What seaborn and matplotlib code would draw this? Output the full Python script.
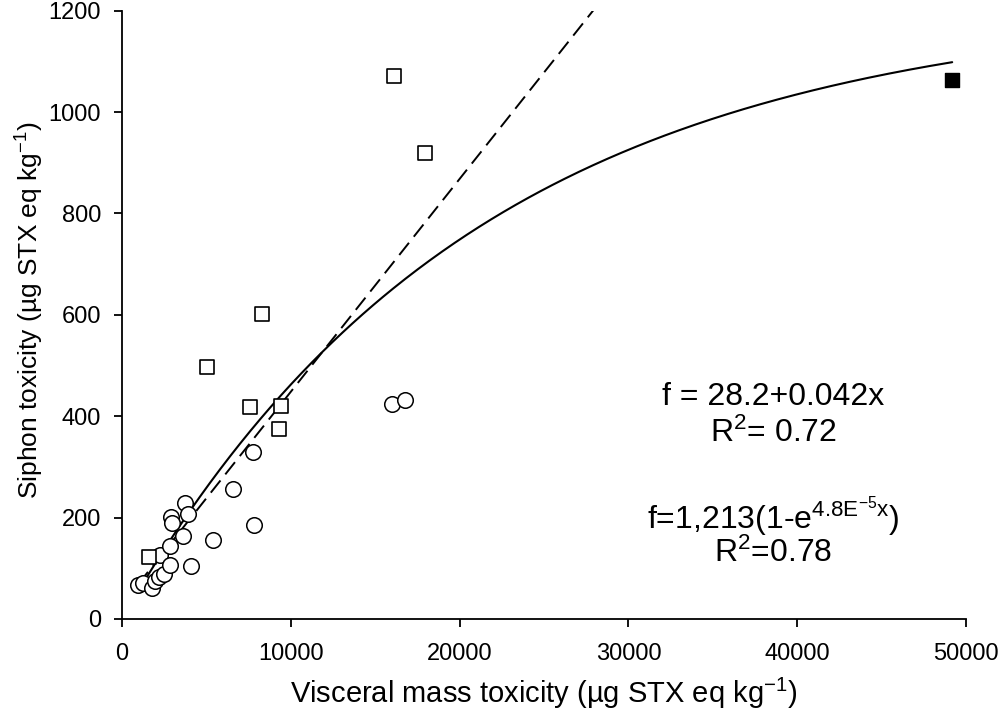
import numpy as np
import pandas as pd
import matplotlib
matplotlib.use("Agg")
import matplotlib.pyplot as plt
import seaborn as sns

# open circles
circle_x = [966, 1263, 1761, 1956, 2211, 2252, 2490, 2845, 2845, 2887, 2946,
            3598, 3734, 3930, 4090, 5412, 6562, 7783, 7825, 15987, 16758]
circle_y = [67, 71, 61, 74, 82, 126, 89, 107, 143, 201, 190,
            164, 228, 207, 105, 155, 256, 330, 186, 424, 431]

# open squares
square_x = [1620, 5056, 7588, 8299, 9289, 9407, 16141, 17979]
square_y = [122, 498, 419, 601, 374, 420, 1072, 920]

# filled square
filled_x = [49182]
filled_y = [1064]

# fitted models (from the annotations)
lin_a, lin_b = 28.2, 0.042
exp_a, exp_k = 1213, 4.8e-5

sns.set_theme(style="ticks")
plt.rcParams["font.family"] = ["Liberation Sans", "DejaVu Sans"]
plt.rcParams["mathtext.fontset"] = "custom"
plt.rcParams["mathtext.rm"] = "Liberation Sans"
plt.rcParams["mathtext.it"] = "Liberation Sans:italic"

fig = plt.figure(figsize=(10, 7.18), dpi=100)
ax = fig.add_axes([0.122, 0.138, 0.844, 0.847])

all_x = circle_x + square_x + filled_x
xs = np.linspace(min(all_x), max(all_x), 400)
fits = pd.DataFrame({
    "x": xs,
    "lin": lin_a + lin_b * xs,
    "exp": exp_a * (1 - np.exp(-exp_k * xs)),
})

sns.lineplot(data=fits, x="x", y="lin", ax=ax, color="black", lw=1.4,
             linestyle=(0, (8, 4)))
sns.lineplot(data=fits, x="x", y="exp", ax=ax, color="black", lw=1.5)

sns.scatterplot(x=circle_x, y=circle_y, ax=ax, marker="o", s=125,
                facecolor="white", edgecolor="black", linewidth=1.1, zorder=3)
sns.scatterplot(x=square_x, y=square_y, ax=ax, marker="s", s=88,
                facecolor="white", edgecolor="black", linewidth=1.2, zorder=3)
sns.scatterplot(x=filled_x, y=filled_y, ax=ax, marker="s", s=95,
                facecolor="black", edgecolor="black", linewidth=1.0, zorder=3)

ax.set_xlim(0, 50000)
ax.set_ylim(0, 1200)
ax.set_xticks([0, 10000, 20000, 30000, 40000, 50000])
ax.set_yticks([0, 200, 400, 600, 800, 1000, 1200])
sns.despine(ax=ax)
for sp in ax.spines.values():
    sp.set_linewidth(1.3)
    sp.set_color("black")
ax.tick_params(axis="both", direction="out", length=6, width=1.3,
               colors="black", labelsize=17)
ax.tick_params(axis="x", pad=11)
ax.tick_params(axis="y", pad=9)

ax.set_xlabel(r"Visceral mass toxicity (µg STX eq kg$^{-1}$)", fontsize=21,
              color="black", labelpad=8)
ax.set_ylabel(r"Siphon toxicity (µg STX eq kg$^{-1}$)", fontsize=19,
              color="black")
ax.yaxis.set_label_coords(-0.09, 0.508)

txt = dict(ha="center", va="center", fontsize=23, color="black")
ax.text(38600, 438, "f = 28.2+0.042x", **txt)
ax.text(38600, 367, r"R$^{2}$= 0.72", **txt)
ax.text(38600, 201, r"f=1,213(1-e$^{4.8\mathrm{E}^{-5}\mathrm{x}}$)", **txt)
ax.text(38600, 130, r"R$^{2}$=0.78", **txt)

fig.savefig("out.png", dpi=100)
